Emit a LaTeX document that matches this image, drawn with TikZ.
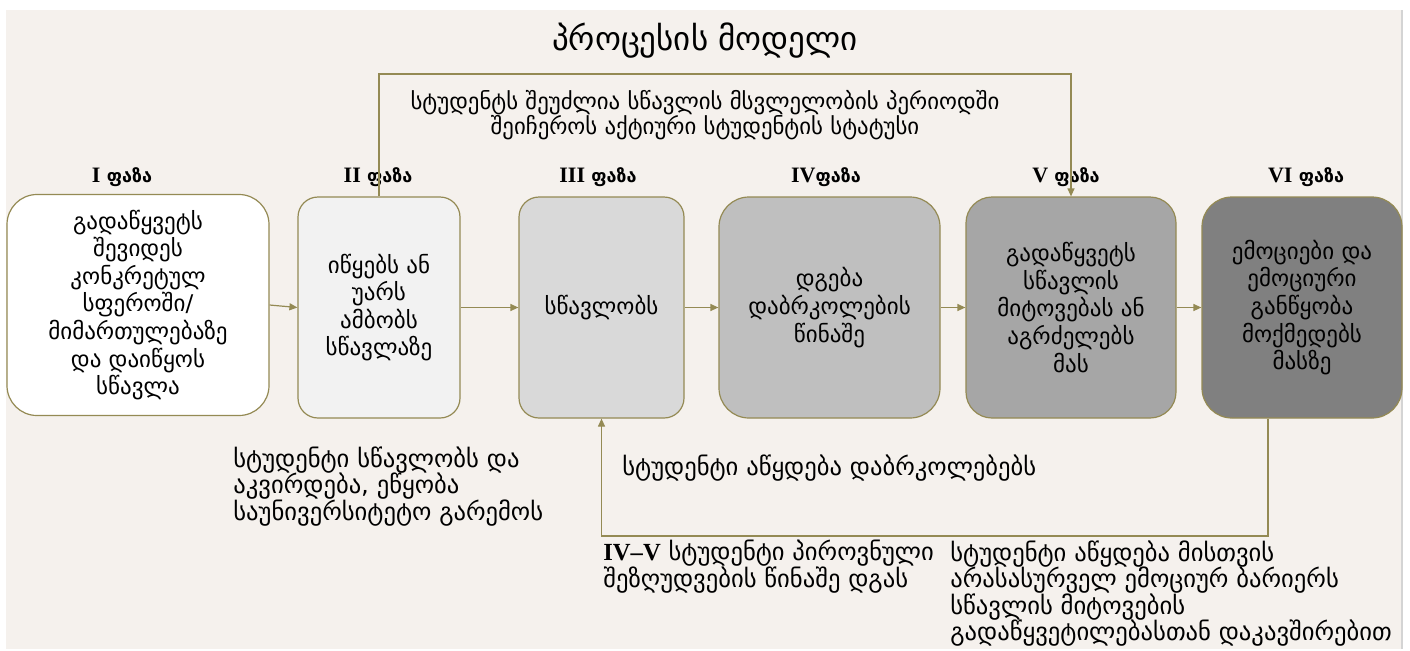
\documentclass[tikz,border=0pt]{standalone}
\usepackage{fontspec}
\setmainfont{DejaVu Sans}
\newfontfamily\romfont{Liberation Serif}
\usetikzlibrary{%
	arrows.meta,%
	positioning
}
\definecolor{bgbeige}{HTML}{F5F1ED}
\definecolor{olive}{HTML}{948A54}
\definecolor{edgegray}{HTML}{D4D4D4}
\newcommand\phnum[1]{{\romfont\bfseries #1}}
\tikzset{
	stage/.style={draw=olive, line width=0.6pt, minimum height=110.5pt, align=center, inner sep=2pt,
		font=\fontsize{11.5}{13.8}\selectfont},
	link/.style={draw=olive, line width=0.6pt, -{Triangle[length=4pt,width=3.5pt]}},
	phase/.style={anchor=base, inner sep=0pt, font=\fontsize{9}{10}\selectfont\bfseries},
	note/.style={inner sep=0pt, font=\fontsize{12.3}{13.3}\selectfont}
}

\begin{document}
\begin{tikzpicture}[x=0.5pt,y=-0.5pt]
	% Background
	\fill[white] (0,0) rectangle (1410,649);
	\fill[bgbeige] (6,10) rectangle (1401,649);
	\draw[edgegray, line width=1pt] (1402,10) -- (1402,649);
	\useasboundingbox (0,0) rectangle (1410,649);
	% Title
	\node[anchor=base, font=\fontsize{16.5}{18}\selectfont] (title) at (705,50) {პროცესის მოდელი};
	% Phases
	\node[phase] (p1) at (122,182) {\phnum{\fontsize{11}{12}\selectfont I} ფაზა};
	\node[phase] (p2) at (378,182) {\phnum{\fontsize{11}{12}\selectfont II} ფაზა};
	\node[phase] (p3) at (598,182) {\phnum{\fontsize{11}{12}\selectfont III} ფაზა};
	\node[phase] (p4) at (826,182) {\phnum{\fontsize{11}{12}\selectfont IV}ფაზა};
	\node[phase] (p5) at (1066,182) {\phnum{\fontsize{11}{12}\selectfont V} ფაზა};
	\node[phase] (p6) at (1306,182) {\phnum{\fontsize{11}{12}\selectfont VI} ფაზა};
	% Boxes
	\node[stage, fill=white, rounded corners=15pt, minimum width=131pt] (b1) at (138,305)
		{გადაწყვეტს\\შევიდეს\\კონკრეტულ\\სფეროში/\\მიმართულებაზე\\და დაიწყოს\\სწავლა};
	\node[stage, fill=black!5, rounded corners=10pt, minimum width=81pt] (b2) at (379,307.5)
		{იწყებს ან\\უარს\\ამბობს\\სწავლაზე};
	\node[stage, fill=black!15, rounded corners=10pt, minimum width=82.5pt] (b3) at (601.5,307.5)
		{სწავლობს};
	\node[stage, fill=black!25, rounded corners=15pt, minimum width=110.5pt] (b4) at (829.5,307.5)
		{დგება\\დაბრკოლების\\წინაშე};
	\node[stage, fill=black!35, rounded corners=13pt, minimum width=105pt] (b5) at (1071,307.5)
		{გადაწყვეტს\\სწავლის\\მიტოვებას ან\\აგრძელებს\\მას};
	\node[stage, fill=black!50, rounded corners=15pt, minimum width=100pt] (b6) at (1302,307.5)
		{ემოციები და\\ემოციური\\განწყობა\\მოქმედებს\\მასზე};
	% Arrows
	\draw[link] (b1.east) -- (b2.west);
	\draw[link] (b2.east) -- (b3.west);
	\draw[link] (b3.east) -- (b4.west);
	\draw[link] (b4.east) -- (b5.west);
	\draw[link] (b5.east) -- (b6.west);
	% Loops
	\coordinate (topline) at (720,74);
	\draw[link] (b2.north) |- (topline) -| (b5.north);
	\coordinate (b6out) at ([xshift=-17pt]b6.south);
	\coordinate (botline) at (900,536);
	\draw[link] (b6out) |- (botline) -| (b3.south);
	% Notes
	\node[note, anchor=north, align=center, font=\fontsize{11.4}{12.3}\selectfont] (n1) at (705,90)
		{სტუდენტს შეუძლია სწავლის მსვლელობის პერიოდში\\შეიჩეროს აქტიური სტუდენტის სტატუსი};
	\node[note, anchor=north west, align=left] (n2) at (233,446)
		{სტუდენტი სწავლობს და\\აკვირდება, ეწყობა\\საუნივერსიტეტო გარემოს};
	\node[note, anchor=north west] (n3) at (622,454) {სტუდენტი აწყდება დაბრკოლებებს};
	\node[note, anchor=north west, align=left] (n4) at (603,540)
		{\phnum{IV–V} სტუდენტი პიროვნული\\შეზღუდვების წინაშე დგას};
	\node[note, anchor=north west, align=left] (n5) at (950,540)
		{სტუდენტი აწყდება მისთვის\\არასასურველ ემოციურ ბარიერს\\სწავლის მიტოვების\\გადაწყვეტილებასთან დაკავშირებით};
\end{tikzpicture}
\end{document}
